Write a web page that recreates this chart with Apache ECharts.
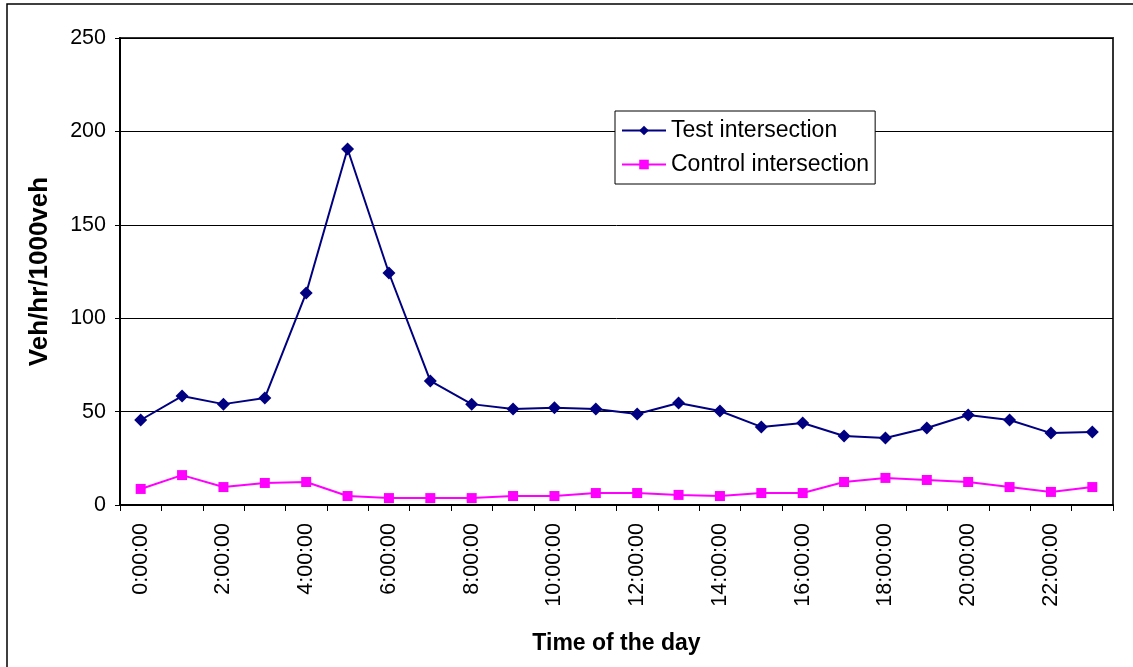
<!DOCTYPE html>
<html>
<head>
<meta charset="utf-8">
<script src="https://cdn.jsdelivr.net/npm/echarts@6/dist/echarts.min.js"></script>
<style>
html,body{margin:0;padding:0;background:#fff;}
#chart{width:1133px;height:667px;}
</style>
</head>
<body>
<div id="chart"></div>
<script>
const categories = ['0:00:00','1:00:00','2:00:00','3:00:00','4:00:00','5:00:00','6:00:00','7:00:00','8:00:00','9:00:00','10:00:00','11:00:00','12:00:00','13:00:00','14:00:00','15:00:00','16:00:00','17:00:00','18:00:00','19:00:00','20:00:00','21:00:00','22:00:00','23:00:00'];
const testValues = [45.5, 58.3, 54, 57.3, 113.5, 190.6, 124.2, 66.4, 54, 51.4, 52, 51.4, 48.7, 54.6, 50.3, 41.8, 43.9, 36.9, 35.9, 41.2, 48.2, 45.5, 38.5, 39.1];
const controlValues = [8.6, 16, 9.6, 11.8, 12.3, 4.8, 3.7, 3.7, 3.7, 4.8, 4.8, 6.4, 6.4, 5.4, 4.8, 6.4, 6.4, 12.3, 14.5, 13.4, 12.3, 9.6, 7, 9.6];
const seriesNames = ['Test intersection', 'Control intersection'];
const yTicks = {min: 0, max: 250, interval: 50};

const FONT = '"Liberation Sans", Arial, sans-serif';
const chart = echarts.init(document.getElementById('chart'), null, {renderer: 'canvas'});
chart.setOption({
  animation: false,
  backgroundColor: '#fff',
  textStyle: {fontFamily: FONT, color: '#000'},
  graphic: [{
    type: 'rect', silent: true, z: -10,
    shape: {x: 7, y: 4, width: 1140, height: 680},
    style: {fill: 'none', stroke: '#000', lineWidth: 1.5}
  }],
  grid: {
    left: 120, right: 20, top: 38, bottom: 162,
    show: true, borderColor: '#333', borderWidth: 2, backgroundColor: 'transparent'
  },
  legend: {
    orient: 'vertical',
    left: 615, top: 111,
    backgroundColor: '#fff',
    borderColor: '#000', borderWidth: 1,
    padding: [8, 6, 8, 6],
    itemGap: 11,
    itemWidth: 44, itemHeight: 12,
    textStyle: {fontFamily: FONT, fontSize: 23, color: '#000'},
    data: seriesNames
  },
  xAxis: {
    type: 'category',
    data: categories,
    boundaryGap: true,
    name: 'Time of the day',
    nameLocation: 'middle',
    nameGap: 127,
    nameTextStyle: {fontFamily: FONT, fontSize: 23, fontWeight: 'bold', color: '#000'},
    axisLine: {lineStyle: {color: '#000', width: 2}},
    axisTick: {show: true, interval: 0, length: 6, lineStyle: {color: '#000'}},
    axisLabel: {interval: 1, rotate: 90, margin: 18, fontFamily: FONT, fontSize: 21.5, color: '#000'},
    splitLine: {show: false}
  },
  yAxis: {
    type: 'value',
    min: yTicks.min, max: yTicks.max, interval: yTicks.interval,
    name: 'Veh/hr/1000veh',
    nameLocation: 'middle',
    nameGap: 67,
    nameTextStyle: {fontFamily: FONT, fontSize: 26, fontWeight: 'bold', color: '#000'},
    axisLine: {show: true, lineStyle: {color: '#000', width: 2}},
    axisTick: {show: true, length: 5, lineStyle: {color: '#000'}},
    axisLabel: {margin: 14, fontFamily: FONT, fontSize: 21.5, color: '#000'},
    splitLine: {show: true, lineStyle: {color: '#000', width: 1}}
  },
  series: [{
    name: seriesNames[0],
    type: 'line',
    data: testValues,
    symbol: 'diamond',
    symbolSize: 13,
    lineStyle: {color: '#000080', width: 2},
    itemStyle: {color: '#000080'}
  }, {
    name: seriesNames[1],
    type: 'line',
    data: controlValues,
    symbol: 'rect',
    symbolSize: 10,
    lineStyle: {color: '#FF00FF', width: 2},
    itemStyle: {color: '#FF00FF'}
  }]
});
</script>
</body>
</html>
